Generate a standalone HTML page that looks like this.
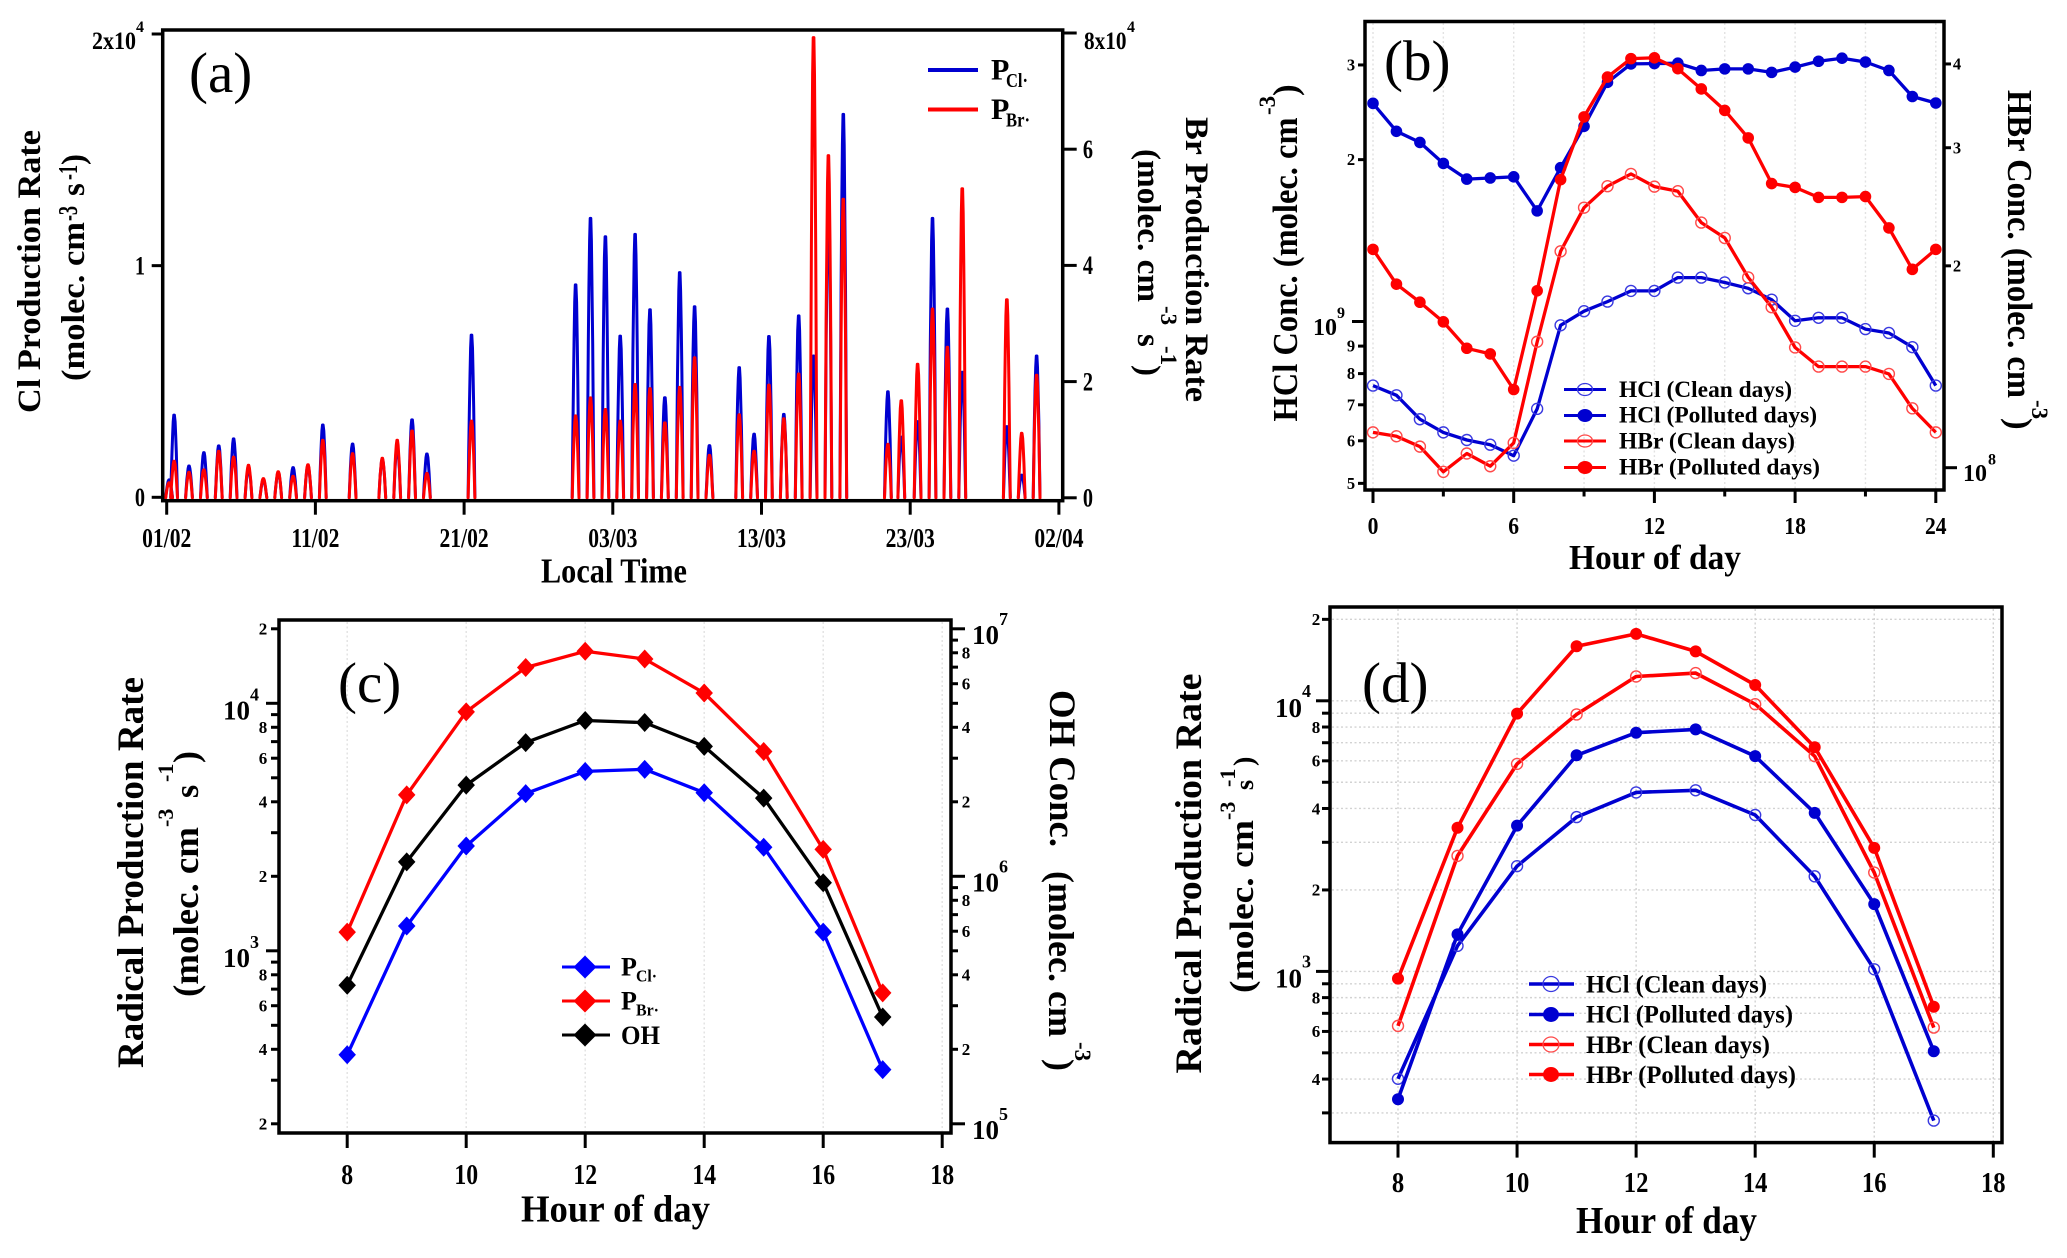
<!DOCTYPE html>
<html lang="en">
<head>
<meta charset="utf-8">
<title>Radical production rates and acid concentrations</title>
<style>
html,body{margin:0;padding:0;background:#fff;}
svg{display:block;}
text{font-family:"Liberation Serif","DejaVu Serif",serif;font-weight:bold;fill:#000;}
text.letter{font-weight:normal;}
</style>
</head>
<body>
<svg id="figure" xmlns="http://www.w3.org/2000/svg" width="2067" height="1258" viewBox="0 0 2067 1258">
<rect x="0" y="0" width="2067" height="1258" fill="#fff"/>

<g id="panel-a">
  <g id="a-plot"></g>
  <rect x="162.7" y="30" width="900" height="470.7" fill="none" stroke="#000" stroke-width="3.5"/>
  <g id="a-axes"></g>
  <text class="letter" x="189" y="92" font-size="57">(a)</text>
  <text transform="translate(40,413) rotate(-90)" font-size="33" textLength="283" lengthAdjust="spacingAndGlyphs">Cl Production Rate</text>
  <text transform="translate(84,381) rotate(-90)" font-size="33" textLength="159" lengthAdjust="spacingAndGlyphs">(molec. cm</text>
  <text transform="translate(77,221) rotate(-90)" font-size="27" textLength="15" lengthAdjust="spacingAndGlyphs">-3</text>
  <text transform="translate(84,196) rotate(-90)" font-size="33">s</text>
  <text transform="translate(77,180) rotate(-90)" font-size="27" textLength="15" lengthAdjust="spacingAndGlyphs">-1</text>
  <text transform="translate(84,165) rotate(-90)" font-size="33">)</text>
  <text transform="translate(1186,117) rotate(90)" font-size="33" textLength="285" lengthAdjust="spacingAndGlyphs">Br Production Rate</text>
  <text transform="translate(1138,149) rotate(90)" font-size="33" textLength="153" lengthAdjust="spacingAndGlyphs">(molec. cm</text>
  <text transform="translate(1161,306) rotate(90)" font-size="23">-3</text>
  <text transform="translate(1138,334) rotate(90)" font-size="33">s</text>
  <text transform="translate(1161,346) rotate(90)" font-size="23">-1</text>
  <text transform="translate(1138,365) rotate(90)" font-size="33">)</text>
  <text x="541" y="582.5" font-size="35" textLength="146" lengthAdjust="spacingAndGlyphs">Local Time</text>
  <g>
    <line x1="928" y1="70" x2="978" y2="70" stroke="#0000d0" stroke-width="4"/>
    <text x="991" y="79.5" font-size="30">P</text>
    <text x="1006" y="87" font-size="20" textLength="22" lengthAdjust="spacingAndGlyphs">Cl·</text>
    <line x1="928" y1="109.5" x2="978" y2="109.5" stroke="#ff0000" stroke-width="4"/>
    <text x="991" y="119" font-size="30">P</text>
    <text x="1006" y="126.5" font-size="20" textLength="24" lengthAdjust="spacingAndGlyphs">Br·</text>
  </g>
</g>

<g id="panel-b">
  <g id="b-grid"></g>
  <g id="b-plot"></g>
  <rect x="1365" y="21.5" width="579" height="468.5" fill="none" stroke="#000" stroke-width="3.5"/>
  <g id="b-axes"></g>
  <text class="letter" x="1384" y="80" font-size="57">(b)</text>
  <text transform="translate(1297,421.5) rotate(-90)" font-size="35" textLength="304" lengthAdjust="spacingAndGlyphs">HCl Conc. (molec. cm</text>
  <text transform="translate(1275,115) rotate(-90)" font-size="23">-3</text>
  <text transform="translate(1297,96) rotate(-90)" font-size="35">)</text>
  <text transform="translate(2008,90) rotate(90)" font-size="35" textLength="308" lengthAdjust="spacingAndGlyphs">HBr Conc. (molec. cm</text>
  <text transform="translate(2032,400) rotate(90)" font-size="23">-3</text>
  <text transform="translate(2008,418) rotate(90)" font-size="35">)</text>
  <text x="1569" y="569" font-size="35" textLength="172" lengthAdjust="spacingAndGlyphs">Hour of day</text>
  <g>
    <line x1="1564" y1="389.5" x2="1606" y2="389.5" stroke="#0000d0" stroke-width="3"/>
    <ellipse cx="1585" cy="389.5" rx="7.5" ry="6" fill="none" stroke="#3a3ae0" stroke-width="1.3"/>
    <text x="1619" y="397" font-size="23" textLength="173" lengthAdjust="spacingAndGlyphs">HCl (Clean days)</text>
    <line x1="1564" y1="415.5" x2="1606" y2="415.5" stroke="#0000d0" stroke-width="3"/>
    <ellipse cx="1585" cy="415.5" rx="7.5" ry="6.5" fill="#0000d0"/>
    <text x="1619" y="422.5" font-size="23" textLength="198" lengthAdjust="spacingAndGlyphs">HCl (Polluted days)</text>
    <line x1="1564" y1="441" x2="1606" y2="441" stroke="#ff0000" stroke-width="3"/>
    <ellipse cx="1585" cy="441" rx="7.5" ry="6" fill="none" stroke="#ff4a4a" stroke-width="1.3"/>
    <text x="1619" y="448.5" font-size="23" textLength="176" lengthAdjust="spacingAndGlyphs">HBr (Clean days)</text>
    <line x1="1564" y1="467.5" x2="1606" y2="467.5" stroke="#ff0000" stroke-width="3"/>
    <ellipse cx="1585" cy="467.5" rx="7.5" ry="6.5" fill="#ff0000"/>
    <text x="1619" y="474.5" font-size="23" textLength="201" lengthAdjust="spacingAndGlyphs">HBr (Polluted days)</text>
  </g>
</g>

<g id="panel-c">
  <g id="c-grid"></g>
  <g id="c-plot"></g>
  <rect x="279" y="620" width="672" height="513" fill="none" stroke="#000" stroke-width="3.5"/>
  <g id="c-axes"></g>
  <text class="letter" x="338" y="702" font-size="57">(c)</text>
  <text transform="translate(143,1068) rotate(-90)" font-size="37" textLength="391" lengthAdjust="spacingAndGlyphs">Radical Production Rate</text>
  <text transform="translate(198,997) rotate(-90)" font-size="36" textLength="170" lengthAdjust="spacingAndGlyphs">(molec. cm</text>
  <text transform="translate(173,827) rotate(-90)" font-size="22">-3</text>
  <text transform="translate(198,798) rotate(-90)" font-size="34">s</text>
  <text transform="translate(173,782) rotate(-90)" font-size="22">-1</text>
  <text transform="translate(198,763) rotate(-90)" font-size="36">)</text>
  <text transform="translate(1050,690) rotate(90)" font-size="37" textLength="157" lengthAdjust="spacingAndGlyphs">OH Conc.</text>
  <text transform="translate(1049,871) rotate(90)" font-size="36" textLength="166" lengthAdjust="spacingAndGlyphs">(molec. cm</text>
  <text transform="translate(1075,1042) rotate(90)" font-size="23">-3</text>
  <text transform="translate(1049,1059) rotate(90)" font-size="36">)</text>
  <text x="521" y="1221.5" font-size="38" textLength="189" lengthAdjust="spacingAndGlyphs">Hour of day</text>
  <g>
    <line x1="562" y1="967" x2="610" y2="967" stroke="#0000ff" stroke-width="3"/>
    <polygon points="585,955.5 596.5,967 585,978.5 573.5,967" fill="#0000ff"/>
    <text x="621" y="975.5" font-size="26">P</text>
    <text x="636" y="981.5" font-size="17" textLength="21" lengthAdjust="spacingAndGlyphs">Cl·</text>
    <line x1="562" y1="1001" x2="610" y2="1001" stroke="#ff0000" stroke-width="3"/>
    <polygon points="585,989.5 596.5,1001 585,1012.5 573.5,1001" fill="#ff0000"/>
    <text x="621" y="1009.5" font-size="26">P</text>
    <text x="636" y="1015.5" font-size="17" textLength="23" lengthAdjust="spacingAndGlyphs">Br·</text>
    <line x1="562" y1="1035" x2="610" y2="1035" stroke="#000" stroke-width="3"/>
    <polygon points="585,1023.5 596.5,1035 585,1046.5 573.5,1035" fill="#000"/>
    <text x="621" y="1044" font-size="26" textLength="39" lengthAdjust="spacingAndGlyphs">OH</text>
  </g>
</g>

<g id="panel-d">
  <g id="d-grid"></g>
  <g id="d-plot"></g>
  <rect x="1330" y="607" width="672" height="535.6" fill="none" stroke="#000" stroke-width="3.5"/>
  <g id="d-axes"></g>
  <text class="letter" x="1362" y="702" font-size="57">(d)</text>
  <text transform="translate(1201,1073.5) rotate(-90)" font-size="37" textLength="400" lengthAdjust="spacingAndGlyphs">Radical Production Rate</text>
  <text transform="translate(1253,993) rotate(-90)" font-size="34" textLength="173" lengthAdjust="spacingAndGlyphs">(molec. cm</text>
  <text transform="translate(1235,820) rotate(-90)" font-size="22">-3</text>
  <text transform="translate(1253,790) rotate(-90)" font-size="26">s</text>
  <text transform="translate(1235,787) rotate(-90)" font-size="22">-1</text>
  <text transform="translate(1253,766) rotate(-90)" font-size="28">)</text>
  <text x="1576" y="1233" font-size="38" textLength="181" lengthAdjust="spacingAndGlyphs">Hour of day</text>
  <g>
    <line x1="1529" y1="984" x2="1574" y2="984" stroke="#0000d0" stroke-width="3.5"/>
    <ellipse cx="1551" cy="984" rx="8" ry="7.5" fill="none" stroke="#3a3ae0" stroke-width="1.3"/>
    <text x="1586" y="992.5" font-size="25" textLength="181" lengthAdjust="spacingAndGlyphs">HCl (Clean days)</text>
    <line x1="1529" y1="1014.5" x2="1574" y2="1014.5" stroke="#0000d0" stroke-width="3.5"/>
    <ellipse cx="1551" cy="1014.5" rx="8" ry="7.5" fill="#0000d0"/>
    <text x="1586" y="1022.5" font-size="25" textLength="207" lengthAdjust="spacingAndGlyphs">HCl (Polluted days)</text>
    <line x1="1529" y1="1044.5" x2="1574" y2="1044.5" stroke="#ff0000" stroke-width="3.5"/>
    <ellipse cx="1551" cy="1044.5" rx="8" ry="7.5" fill="none" stroke="#ff4a4a" stroke-width="1.3"/>
    <text x="1586" y="1053" font-size="25" textLength="184" lengthAdjust="spacingAndGlyphs">HBr (Clean days)</text>
    <line x1="1529" y1="1074.5" x2="1574" y2="1074.5" stroke="#ff0000" stroke-width="3.5"/>
    <ellipse cx="1551" cy="1074.5" rx="8" ry="7.5" fill="#ff0000"/>
    <text x="1586" y="1083" font-size="25" textLength="210" lengthAdjust="spacingAndGlyphs">HBr (Polluted days)</text>
  </g>
</g>
</svg>

<script>
// ---- Panel (a) data: days since 1 Feb, daily peak values (x10^4) ----
const aPeakDays = [0.16,0.5,1.5,2.5,3.5,4.5,5.5,6.5,7.5,8.5,9.5,10.5,12.5,14.5,15.5,16.5,17.5,20.5,27.5,28.5,29.5,30.5,31.5,32.5,33.5,34.5,35.5,36.5,38.5,39.5,40.5,41.5,42.5,43.5,44.5,45.5,48.5,49.4,50.5,51.5,52.5,53.5,56.5,57.5,58.5];
const aClPeaks = [0.075,0.355,0.135,0.193,0.222,0.252,0.125,0.075,0.106,0.128,0.135,0.312,0.23,0.164,0.22,0.334,0.187,0.70,0.917,1.204,1.125,0.696,1.135,0.81,0.43,0.97,0.823,0.223,0.56,0.273,0.694,0.358,0.783,0.61,1.27,1.653,0.456,0.26,0.327,1.204,0.813,0.54,0.305,0.096,0.61];
const aBrPeaks = [0.26,0.63,0.44,0.48,0.80,0.70,0.56,0.33,0.45,0.37,0.57,0.99,0.76,0.68,0.99,1.15,0.42,1.32,1.41,1.72,1.52,1.32,1.95,1.88,1.29,1.90,2.41,0.73,1.43,0.80,1.94,1.36,2.13,7.92,5.89,5.14,0.92,1.67,2.30,3.25,2.59,5.32,3.41,1.11,2.11];
const aDiurnalHours = [7,8,9,10,11,12,13,14,15,16,17,18];
const aDiurnalShape = [0,0.28,0.55,0.75,0.92,1,1,0.92,0.75,0.55,0.28,0];
const aXTicks = [0,10,20,30,40,50,60];
const aXLabels = ['01/02','11/02','21/02','03/03','13/03','23/03','02/04'];
const aLeftTicks = [0,1,2];
const aLeftLabels = ['0','1','2x10^4'];
const aRightTicks = [0,2,4,6,8];
const aRightLabels = ['0','2','4','6','8x10^4'];

// ---- Panel (b) data: 0..24 h ----
const bHours = [0,1,2,3,4,5,6,7,8,9,10,11,12,13,14,15,16,17,18,19,20,21,22,23,24];
const bHclClean = [0.76,0.729,0.658,0.622,0.602,0.59,0.563,0.688,0.984,1.045,1.089,1.14,1.14,1.207,1.207,1.182,1.153,1.098,1.003,1.016,1.016,0.968,0.952,0.896,0.76];
const bHclPolluted = [2.545,2.258,2.153,1.968,1.84,1.849,1.858,1.606,1.932,2.307,2.785,3.013,3.018,3.023,2.93,2.95,2.95,2.906,2.973,3.048,3.088,3.038,2.93,2.621,2.549];
const bHbrClean = [1.129,1.114,1.075,0.986,1.05,1.005,1.089,1.541,2.102,2.442,2.629,2.742,2.625,2.584,2.32,2.201,1.922,1.735,1.511,1.415,1.415,1.415,1.38,1.226,1.129];
const bHbrPolluted = [2.116,1.878,1.765,1.65,1.507,1.478,1.308,1.836,2.689,3.335,3.824,4.074,4.085,3.936,3.671,3.41,3.103,2.653,2.618,2.53,2.53,2.537,2.278,1.976,2.116];
const bXTicks = [0,3,6,9,12,15,18,21,24];
const bXLabels = ['0','','6','','12','','18','','24'];
const bLeftTicks = [5e8,6e8,7e8,8e8,9e8,1e9,2e9,3e9];
const bLeftLabels = ['5','6','7','8','9','10^9','2','3'];
const bRightTicks = [1e8,2e8,3e8,4e8];
const bRightLabels = ['10^8','2','3','4'];

// ---- Panel (c) data: 8..17 h ----
const cHours = [8,9,10,11,12,13,14,15,16,17];
const cPCl = [380,1259,2650,4317,5305,5411,4352,2620,1190,331];
const cPBr = [1190,4265,9238,13950,16220,15100,11000,6390,2568,676];
const cOH = [3.63e5,1.144e6,2.335e6,3.47e6,4.26e6,4.18e6,3.35e6,2.07e6,9.42e5,2.70e5];
const cXTicks = [8,10,12,14,16,18];
const cXLabels = ['8','10','12','14','16','18'];
const cLeftTicks = [2e2,3e2,4e2,5e2,6e2,7e2,8e2,9e2,1e3,2e3,3e3,4e3,5e3,6e3,7e3,8e3,9e3,1e4,2e4];
const cLeftLabels = ['2','','4','','6','','8','','10^3','2','','4','','6','','8','','10^4','2'];
const cRightTicks = [1e5,2e5,3e5,4e5,5e5,6e5,7e5,8e5,9e5,1e6,2e6,3e6,4e6,5e6,6e6,7e6,8e6,9e6,1e7];
const cRightLabels = ['10^5','2','','4','','6','','8','','10^6','2','','4','','6','','8','','10^7'];

// ---- Panel (d) data: 8..17 h ----
const dHours = [8,9,10,11,12,13,14,15,16,17];
const dHclClean = [401,1243,2449,3717,4585,4670,3784,2245,1018,281];
const dHclPolluted = [337,1371,3456,6290,7620,7843,6243,3853,1773,507];
const dHbrClean = [629,2672,5846,8904,12300,12660,9714,6243,2319,620];
const dHbrPolluted = [940,3394,8968,15900,17670,15230,11440,6734,2862,740];
const dXTicks = [8,10,12,14,16,18];
const dXLabels = ['8','10','12','14','16','18'];
const dLeftTicks = [3e2,4e2,5e2,6e2,7e2,8e2,9e2,1e3,2e3,3e3,4e3,5e3,6e3,7e3,8e3,9e3,1e4,2e4];
const dLeftLabels = ['','4','','6','','8','','10^3','2','','4','','6','','8','','10^4','2'];

const NS = 'http://www.w3.org/2000/svg';
function mk(tag, parent){
  const n = document.createElementNS(NS, tag);
  parent.appendChild(n);
  return n;
}
function setAll(n, attrs){
  for(const k in attrs){ n.setAttribute(k, attrs[k]); }
  return n;
}
function byId(i){ return document.getElementById(i); }

// Axis functions
const axA = {
  x: d => 166.7 + 14.87*d,
  yL: v => 497.3 - 231.65*v,
  yR: v => 497.8 - 58.1*v
};
const axB = {
  x: h => 1373 + 23.45*h,
  yL: v => 321.5 - 537.7*Math.log10(v/1e9),
  yR: v => 467.7 - 670.6*Math.log10(v/1e8)
};
const axC = {
  x: h => 347.2 + 59.5*(h-8),
  yL: v => 950.8 - 247.5*Math.log10(v/1e3),
  yR: v => 876.3 - 247.5*Math.log10(v/1e6)
};
const axD = {
  x: h => 1398 + 59.53*(h-8),
  yL: v => 700.8 - 270.6*Math.log10(v/1e4)
};

function tickText(parent, str, x, y, fs, sx, anchor){
  const t = mk('text', parent);
  
  
  setAll(t, {transform:'translate('+x+','+y+') scale('+sx+',1)', 'font-size':fs, 'text-anchor':anchor});
  t.textContent = str;
  return t;
}

function drawYAxis(parent, scale, values, labels, o){
  values.forEach(function(v, i){
    const y = scale(v);
    const lab = labels[i];
    const isPow = lab.indexOf('^') >= 0;
    const len = isPow && lab.indexOf('x') < 0 ? o.powLen : o.len;
    const tick = mk('line', parent);
    
    
    setAll(tick, {x1:o.frame, x2:o.frame + o.dir*len, y1:y, y2:y, stroke:'#000', 'stroke-width':o.tw});
    if(!lab) return;
    if(isPow){
      const parts = lab.split('^');
      tickText(parent, parts[0], o.powX, y + o.powDy, o.powFs, o.powSx || 1, 'start');
      tickText(parent, parts[1], o.supX, y + o.supDy, o.supFs, 1, 'start');
    } else {
      tickText(parent, lab, o.labelX, y + 0.34*o.fs, o.fs, o.sx || 1, o.anchor || 'middle');
    }
  });
}

function drawXAxis(parent, scale, values, labels, o){
  values.forEach(function(v, i){
    const x = scale(v);
    const tick = mk('line', parent);
    
    
    setAll(tick, {x1:x, x2:x, y1:o.frame, y2:o.frame + (labels[i] ? o.len : o.len/2), stroke:'#000', 'stroke-width':o.tw});
    if(labels[i]){
      tickText(parent, labels[i], x, o.base, o.fs, o.sx, 'middle');
    }
  });
}

function drawGrid(parent, xs, y1, y2, color){
  xs.forEach(function(x){
    const g = mk('line', parent);
    
    
    setAll(g, {x1:x, x2:x, y1:y1, y2:y2, stroke:color, 'stroke-width':1.4, 'stroke-dasharray':'2 2.5'});
  });
}

function drawSeries(parent, name, xs, vals, xf, yf, color, lw, marker){
  const g = mk('g', parent);
  
  
  const pts = xs.map(function(x, i){ return xf(x).toFixed(1)+','+yf(vals[i]).toFixed(1); });
  const line = mk('polyline', g);
  
  
  setAll(line, {points:pts.join(' '), fill:'none', stroke:color, 'stroke-width':lw, 'stroke-linejoin':'round'});
  xs.forEach(function(x, i){
    const cx = xf(x), cy = yf(vals[i]);
    let m;
    if(marker.type === 'diamond'){
      m = mk('polygon', g);
      const s = marker.r;
      setAll(m, {points:cx+','+(cy-s)+' '+(cx+s*0.92)+','+cy+' '+cx+','+(cy+s)+' '+(cx-s*0.92)+','+cy, fill:color});
    } else if(marker.type === 'open'){
      m = mk('circle', g);
      setAll(m, {cx:cx, cy:cy, r:marker.r, fill:'none', stroke:marker.stroke, 'stroke-width':1.4});
    } else {
      m = mk('circle', g);
      setAll(m, {cx:cx, cy:cy, r:marker.r, fill:color});
    }
    
    
  });
}

// ---- Panel (a) ----
function drawPeaks(parent, peaks, yf, color, name){
  const g = mk('g', parent);
  
  
  aPeakDays.forEach(function(day, i){
    const pts = aDiurnalHours.map(function(h, j){
      const d = day + (h - 12.5)/24;
      return axA.x(d).toFixed(1)+','+yf(peaks[i]*aDiurnalShape[j]).toFixed(1);
    });
    const p = mk('polyline', g);
    
    
    setAll(p, {points:pts.join(' '), fill:'none', stroke:color, 'stroke-width':3, 'stroke-linejoin':'round', 'stroke-linecap':'round'});
  });
}
drawPeaks(byId('a-plot'), aClPeaks, axA.yL, '#0000d0', 'p-cl-series');
drawPeaks(byId('a-plot'), aBrPeaks, axA.yR, '#ff0000', 'p-br-series');
drawXAxis(byId('a-axes'), axA.x, aXTicks, aXLabels, {frame:500.7, len:14, tw:3, base:547, fs:27, sx:0.8});
drawYAxis(byId('a-axes'), axA.yL, aLeftTicks, aLeftLabels, {frame:162.7, dir:-1, len:11, powLen:11, tw:3, labelX:140, fs:26, sx:0.78, anchor:'middle', powX:92, powDy:15, powFs:25, powSx:0.88, supX:136, supDy:-2, supFs:16});
drawYAxis(byId('a-axes'), axA.yR, aRightTicks, aRightLabels, {frame:1062.7, dir:1, len:14, powLen:14, tw:3, labelX:1088, fs:26, sx:0.78, anchor:'middle', powX:1084, powDy:16, powFs:25, powSx:0.85, supX:1127, supDy:-1, supFs:16});

// ---- Panel (b) ----
drawGrid(byId('b-grid'), bXTicks.map(axB.x), 23, 489, '#e2e2e2');
drawSeries(byId('b-plot'), 'hcl-clean-series', bHours, bHclClean.map(function(v){return v*1e9;}), axB.x, axB.yL, '#0000d0', 3.3, {type:'open', r:5.5, stroke:'#3a3ae0'});
drawSeries(byId('b-plot'), 'hcl-polluted-series', bHours, bHclPolluted.map(function(v){return v*1e9;}), axB.x, axB.yL, '#0000d0', 3.3, {type:'filled', r:5.8});
drawSeries(byId('b-plot'), 'hbr-clean-series', bHours, bHbrClean.map(function(v){return v*1e8;}), axB.x, axB.yR, '#ff0000', 3.3, {type:'open', r:5.5, stroke:'#ff4a4a'});
drawSeries(byId('b-plot'), 'hbr-polluted-series', bHours, bHbrPolluted.map(function(v){return v*1e8;}), axB.x, axB.yR, '#ff0000', 3.3, {type:'filled', r:5.8});
drawXAxis(byId('b-axes'), axB.x, bXTicks, bXLabels, {frame:490, len:13, tw:3, base:534, fs:24, sx:0.9});
drawYAxis(byId('b-axes'), axB.yL, bLeftTicks, bLeftLabels, {frame:1365, dir:-1, len:7, powLen:13, tw:3, labelX:1351, fs:16.5, powX:1313, powDy:13.5, powFs:24, supX:1337, supDy:-3.5, supFs:16});
drawYAxis(byId('b-axes'), axB.yR, bRightTicks, bRightLabels, {frame:1944, dir:1, len:7, powLen:13, tw:3, labelX:1957, fs:16.5, powX:1963, powDy:13.5, powFs:24, supX:1988, supDy:-3, supFs:16});

// ---- Panel (c) ----
drawGrid(byId('c-grid'), cXTicks.map(axC.x), 622, 1131, '#e2e2e2');
drawSeries(byId('c-plot'), 'p-cl-series', cHours, cPCl, axC.x, axC.yL, '#0000ff', 3.3, {type:'diamond', r:9.5});
drawSeries(byId('c-plot'), 'p-br-series', cHours, cPBr, axC.x, axC.yL, '#ff0000', 3.3, {type:'diamond', r:9.5});
drawSeries(byId('c-plot'), 'oh-series', cHours, cOH, axC.x, axC.yR, '#000000', 3.3, {type:'diamond', r:9.5});
drawXAxis(byId('c-axes'), axC.x, cXTicks, cXLabels, {frame:1133, len:15, tw:3, base:1184, fs:29, sx:0.82});
drawYAxis(byId('c-axes'), axC.yL, cLeftTicks, cLeftLabels, {frame:279, dir:-1, len:8, powLen:13, tw:3, labelX:263, fs:17, powX:223, powDy:16, powFs:27, supX:250, supDy:-3, supFs:18});
drawYAxis(byId('c-axes'), axC.yR, cRightTicks, cRightLabels, {frame:951, dir:1, len:7, powLen:14, tw:3, labelX:966, fs:17, powX:972, powDy:15, powFs:27, supX:999, supDy:-4, supFs:18});

// ---- Panel (d) ----
drawGrid(byId('d-grid'), dXTicks.map(axD.x), 609, 1141, '#d2d2d2');
dLeftTicks.forEach(function(v){
  const y = axD.yL(v);
  const g = mk('line', byId('d-grid'));
  
  
  setAll(g, {x1:1332, x2:2000, y1:y, y2:y, stroke:'#d2d2d2', 'stroke-width':1.4, 'stroke-dasharray':'2 2.5'});
});
drawSeries(byId('d-plot'), 'hcl-clean-series', dHours, dHclClean, axD.x, axD.yL, '#0000d0', 3.6, {type:'open', r:5.5, stroke:'#3a3ae0'});
drawSeries(byId('d-plot'), 'hcl-polluted-series', dHours, dHclPolluted, axD.x, axD.yL, '#0000d0', 3.6, {type:'filled', r:6});
drawSeries(byId('d-plot'), 'hbr-clean-series', dHours, dHbrClean, axD.x, axD.yL, '#ff0000', 3.6, {type:'open', r:5.5, stroke:'#ff4a4a'});
drawSeries(byId('d-plot'), 'hbr-polluted-series', dHours, dHbrPolluted, axD.x, axD.yL, '#ff0000', 3.6, {type:'filled', r:6});
drawXAxis(byId('d-axes'), axD.x, dXTicks, dXLabels, {frame:1142.6, len:15, tw:3, base:1192, fs:29, sx:0.85});
drawYAxis(byId('d-axes'), axD.yL, dLeftTicks, dLeftLabels, {frame:1330, dir:-1, len:8, powLen:14, tw:3, labelX:1316, fs:17, powX:1275, powDy:16, powFs:27, supX:1302, supDy:-4, supFs:18});
</script>
</body>
</html>
